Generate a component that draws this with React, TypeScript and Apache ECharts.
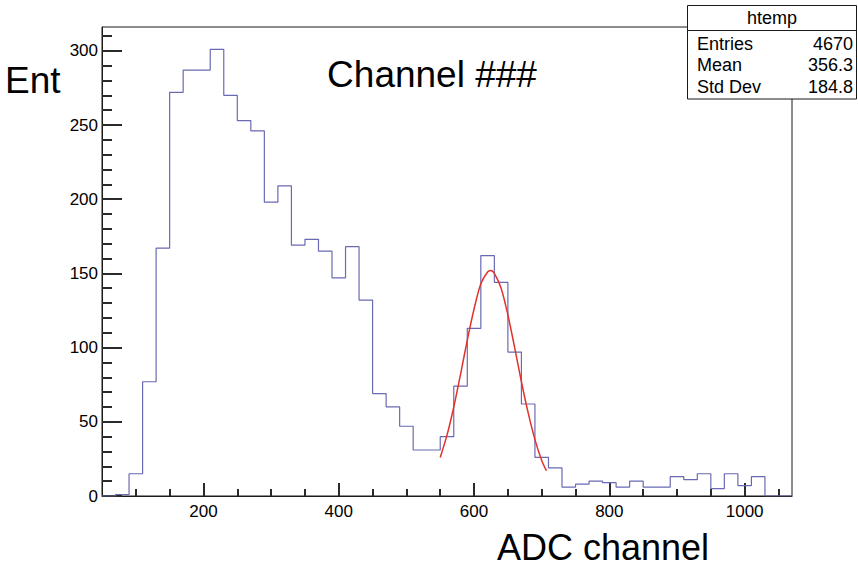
import React, { useEffect, useRef } from "react";
import * as echarts from "echarts";

// ---------------- data ----------------
const CHANNEL_MIN = 50;
const CHANNEL_MAX = 1070;
const BIN_WIDTH = 20;
const Y_MAX = 316.05;

// histogram bin contents, bins of 20 starting at 50
const binCounts = [
  0, 1, 15, 77, 167, 272, 287, 287, 301, 270, 253, 246, 198, 209, 169, 173, 165,
  147, 168, 132, 69, 60, 47, 31, 31, 40, 74, 113, 162, 144, 97, 62, 26, 19, 6, 8,
  10, 9, 6, 10, 6, 6, 13, 11, 15, 5, 15, 7, 13, 0, 0,
];

// gaussian fit curve
const fitX = [550, 560, 570, 580, 590, 600, 610, 620, 625, 630, 640, 650, 660, 670, 680, 690, 700, 707];
const fitY = [26, 41, 60, 82, 105, 126, 143, 151, 152, 150, 140, 122, 100, 77, 56, 38, 24, 17];

const xMajorTicks = [200, 400, 600, 800, 1000];
const xMinorTicks = [100, 150, 250, 300, 350, 450, 500, 550, 650, 700, 750, 850, 900, 950, 1050];
const yMajorTicks = [0, 50, 100, 150, 200, 250, 300];
const yMinorTicks = [
  10, 20, 30, 40, 60, 70, 80, 90, 110, 120, 130, 140, 160, 170, 180, 190, 210, 220,
  230, 240, 260, 270, 280, 290, 310,
];

const plotLabel = "Channel ###";
const xTitle = "ADC channel";
const yTitle = "Ent";
const statsTitle = "htemp";
const statsLabels = ["Entries", "Mean", "Std Dev"];
const statsValues = ["4670", "356.3", "184.8"];

const FONT = '"Liberation Sans", Arial, Helvetica, sans-serif';
const FRAME = "#1a1a1a";
const TICK = { color: "#2a2a2a", width: 2 };

export default function App() {
  const ref = useRef<HTMLDivElement>(null);

  useEffect(() => {
    document.body.style.margin = "0";
    if (!ref.current) return;
    const chart = echarts.init(ref.current, undefined, { renderer: "svg" });

    const histPoints: number[][] = [];
    binCounts.forEach((c, i) => {
      const lo = CHANNEL_MIN + i * BIN_WIDTH;
      histPoints.push([lo, c], [lo + BIN_WIDTH, c]);
    });
    const fitPoints = fitX.map((x, i) => [x, fitY[i]]);

    const statsRowY = [43.7, 65.4, 86.6];
    const graphics: any[] = [
      {
        type: "text",
        x: 432,
        y: 74,
        style: { text: plotLabel, fontSize: 37, fontFamily: FONT, fill: "#000", align: "center", verticalAlign: "middle" },
      },
      {
        type: "text",
        x: 603,
        y: 547,
        style: { text: xTitle, fontSize: 36, lineHeight: 36, fontFamily: FONT, fill: "#000", align: "center", verticalAlign: "middle" },
      },
      {
        type: "text",
        x: 5,
        y: 80,
        style: { text: yTitle, fontSize: 37, fontFamily: FONT, fill: "#000", align: "left", verticalAlign: "middle" },
      },
      {
        type: "rect",
        shape: { x: 687.5, y: 5.5, width: 169, height: 93.5 },
        style: { fill: "#fff", stroke: FRAME, lineWidth: 1 },
      },
      {
        type: "line",
        shape: { x1: 687.5, y1: 30.5, x2: 856.5, y2: 30.5 },
        style: { stroke: FRAME, lineWidth: 1 },
      },
      {
        type: "text",
        x: 772,
        y: 17.5,
        style: { text: statsTitle, fontSize: 18, fontFamily: FONT, fill: "#000", align: "center", verticalAlign: "middle" },
      },
    ];
    statsLabels.forEach((lab, i) => {
      graphics.push({
        type: "text",
        x: 697,
        y: statsRowY[i],
        style: { text: lab, fontSize: 18, fontFamily: FONT, fill: "#000", align: "left", verticalAlign: "middle" },
      });
      graphics.push({
        type: "text",
        x: 853,
        y: statsRowY[i],
        style: { text: statsValues[i], fontSize: 18, fontFamily: FONT, fill: "#000", align: "right", verticalAlign: "middle" },
      });
    });

    chart.setOption({
      animation: false,
      backgroundColor: "#ffffff",
      grid: { left: 102, top: 27, width: 690, height: 469, show: true, borderColor: FRAME, borderWidth: 1 },
      xAxis: [
        {
          type: "value",
          min: CHANNEL_MIN,
          max: CHANNEL_MAX,
          splitLine: { show: false },
          axisLine: { show: true, onZero: false, lineStyle: { color: FRAME } },
          axisTick: { show: true, inside: true, length: 13, customValues: xMajorTicks, lineStyle: TICK },
          axisLabel: {
            customValues: xMajorTicks,
            formatter: (v: number) => String(v),
            fontSize: 17,
            fontFamily: FONT,
            color: "#000",
            margin: 7,
          },
        },
        {
          type: "value",
          min: CHANNEL_MIN,
          max: CHANNEL_MAX,
          position: "bottom",
          splitLine: { show: false },
          axisLine: { show: false, onZero: false },
          axisTick: { show: true, inside: true, length: 7, customValues: xMinorTicks, lineStyle: TICK },
          axisLabel: { show: false },
        },
      ],
      yAxis: [
        {
          type: "value",
          min: 0,
          max: Y_MAX,
          interval: 50,
          splitLine: { show: false },
          axisLine: { show: true, onZero: false, lineStyle: { color: FRAME } },
          axisTick: { show: true, inside: true, length: 20, customValues: yMajorTicks, lineStyle: TICK },
          axisLabel: {
            customValues: yMajorTicks,
            formatter: (v: number) => String(v),
            fontSize: 17,
            fontFamily: FONT,
            color: "#000",
            margin: 4,
          },
        },
        {
          type: "value",
          min: 0,
          max: Y_MAX,
          position: "left",
          splitLine: { show: false },
          axisLine: { show: false, onZero: false },
          axisTick: { show: true, inside: true, length: 10, customValues: yMinorTicks, lineStyle: TICK },
          axisLabel: { show: false },
        },
      ],
      series: [
        {
          type: "line",
          name: "htemp",
          data: histPoints,
          symbol: "none",
          lineStyle: { color: "#6a6ab4", width: 1.2 },
        },
        {
          type: "line",
          name: "fit",
          data: fitPoints,
          smooth: 0.3,
          symbol: "none",
          lineStyle: { color: "#e3322b", width: 1.5 },
        },
      ],
      graphic: graphics,
    });

    return () => {
      chart.dispose();
    };
  }, []);

  return <div ref={ref} style={{ width: 858, height: 566 }} />;
}
